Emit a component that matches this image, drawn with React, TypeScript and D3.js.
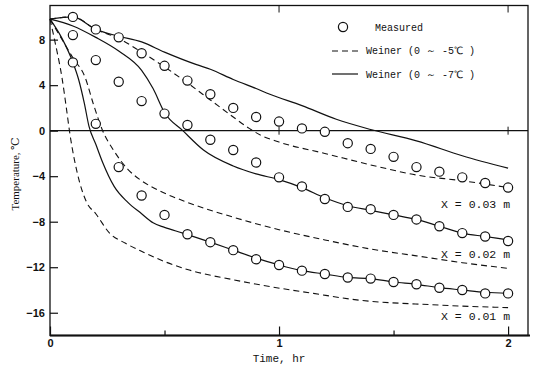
import React, { useRef, useEffect } from "react";
import * as d3 from "d3";

// measured temperatures, one reading every 0.1 hr
const measuredHours = [0.1, 0.2, 0.3, 0.4, 0.5, 0.6, 0.7, 0.8, 0.9, 1.0, 1.1, 1.2, 1.3, 1.4, 1.5, 1.6, 1.7, 1.8, 1.9, 2.0];
const measuredX003 = [10.0, 8.9, 8.2, 6.8, 5.7, 4.4, 3.2, 2.0, 1.2, 0.8, 0.2, -0.1, -1.1, -1.6, -2.3, -3.2, -3.6, -4.1, -4.6, -5.0];
const measuredX002 = [8.4, 6.2, 4.3, 2.6, 1.5, 0.5, -0.8, -1.7, -2.8, -4.1, -4.9, -6.0, -6.7, -6.9, -7.4, -7.8, -8.4, -9.0, -9.3, -9.7];
const measuredX001 = [6.0, 0.6, -3.2, -5.7, -7.4, -9.1, -9.8, -10.5, -11.3, -11.8, -12.3, -12.6, -12.9, -13.0, -13.3, -13.5, -13.8, -14.0, -14.3, -14.3];

// Weiner (0 ~ -7C), solid lines
const w7X003Hours = [0, 0.1, 0.2, 0.3, 0.4, 0.5, 0.64, 0.7, 0.8, 0.9, 0.96, 1.1, 1.25, 1.4, 1.6, 1.8, 2.0];
const w7X003 = [9.8, 10.0, 8.9, 8.3, 7.8, 6.9, 5.8, 5.4, 4.5, 3.7, 3.2, 2.2, 1.0, 0.1, -0.9, -2.2, -3.3];
const w7X002Hours = [0, 0.1, 0.2, 0.3, 0.4, 0.45, 0.5, 0.58, 0.67, 0.8, 0.9, 1.0, 1.1, 1.2, 1.3, 1.4, 1.5, 1.6, 1.7, 1.8, 1.9, 2.0];
const w7X002 = [9.8, 9.2, 8.2, 7.0, 5.3, 3.7, 1.6, 0.0, -1.7, -3.1, -3.8, -4.3, -5.0, -5.9, -6.6, -7.0, -7.4, -7.8, -8.4, -9.0, -9.3, -9.6];
const w7X001Hours = [0, 0.05, 0.1, 0.125, 0.15, 0.17, 0.2, 0.23, 0.28, 0.34, 0.4, 0.45, 0.5, 0.58, 0.7, 0.8, 0.9, 1.0, 1.1, 1.2, 1.3, 1.4, 1.5, 1.6, 1.7, 1.8, 1.9, 2.0];
const w7X001 = [9.8, 8.2, 6.0, 4.5, 2.4, 0.4, -1.2, -2.8, -4.9, -6.3, -7.3, -8.1, -8.5, -9.0, -9.8, -10.5, -11.2, -11.8, -12.3, -12.6, -12.9, -13.0, -13.3, -13.5, -13.8, -14.0, -14.2, -14.3];

// Weiner (0 ~ -5C), dashed lines
const w5X003Hours = [0, 0.1, 0.2, 0.3, 0.4, 0.5, 0.6, 0.7, 0.8, 0.87, 0.92, 1.0, 1.2, 1.44, 1.6, 1.8, 2.0];
const w5X003 = [9.8, 10.0, 8.9, 8.1, 6.9, 5.6, 4.2, 2.7, 1.2, 0.2, -0.4, -1.0, -2.0, -3.2, -3.9, -4.4, -5.0];
const w5X002Hours = [0, 0.05, 0.1, 0.153, 0.19, 0.23, 0.28, 0.34, 0.4, 0.48, 0.6, 0.8, 1.0, 1.2, 1.4, 1.6, 1.8, 2.0];
const w5X002 = [9.8, 8.1, 6.4, 4.7, 2.3, 0.0, -1.8, -3.4, -4.4, -5.3, -6.3, -7.6, -8.7, -9.6, -10.4, -11.0, -11.6, -12.1];
const w5X001Hours = [0, 0.025, 0.052, 0.07, 0.087, 0.12, 0.16, 0.2, 0.26, 0.33, 0.41, 0.5, 0.6, 0.8, 0.96, 1.15, 1.33, 1.67, 2.0];
const w5X001 = [9.8, 7.5, 4.7, 2.2, -0.3, -3.8, -6.3, -7.3, -9.0, -9.9, -10.7, -11.5, -12.2, -13.1, -13.7, -14.3, -14.85, -15.3, -15.55];

const yTicks = [-16, -12, -8, -4, 0, 4, 8];
const xTicks = [0, 1, 2];
const xMinorTicks = [0.5, 1.5];
const depthLabels = ["X = 0.03 m", "X = 0.02 m", "X = 0.01 m"];
const depthLabelTemps = [-6.8, -11.2, -16.6];
const legendLabels = ["Measured", "Weiner (0 \uFF5E -5\u2103 )", "Weiner (0 \uFF5E -7\u2103 )"];

const mono = "'Liberation Mono', 'DejaVu Sans Mono', monospace";

const Chart = () => {
  const svgRef = useRef(null);

  useEffect(() => {
    const svg = d3.select(svgRef.current);
    svg.selectAll("*").remove();

    const left = 50, right = 528, top = 5.5, bottom = 335.5;
    const x = d3.scaleLinear().domain([0, 2.087]).range([left, right]);
    const y = d3.scaleLinear().domain([-18, 11]).range([bottom, top]);

    const line = d3
      .line()
      .x((d) => x(d[0]))
      .y((d) => y(d[1]))
      .curve(d3.curveMonotoneX);

    const zip = (ts, vs) => ts.map((t, i) => [t, vs[i]]);

    // frame
    svg.append("rect")
      .attr("x", left).attr("y", top)
      .attr("width", right - left).attr("height", bottom - top)
      .attr("fill", "none").attr("stroke", "#111").attr("stroke-width", 1.3);
    svg.append("line")
      .attr("x1", left).attr("x2", right + 2)
      .attr("y1", bottom).attr("y2", bottom)
      .attr("stroke", "#111").attr("stroke-width", 1.8);

    // zero line
    svg.append("line")
      .attr("x1", left).attr("x2", right)
      .attr("y1", y(0)).attr("y2", y(0))
      .attr("stroke", "#111").attr("stroke-width", 1.1);
    [1, 2].forEach((t) => {
      svg.append("line")
        .attr("x1", x(t)).attr("x2", x(t))
        .attr("y1", y(0) - 4).attr("y2", y(0) + 4)
        .attr("stroke", "#111").attr("stroke-width", 1);
      svg.append("line")
        .attr("x1", x(t)).attr("x2", x(t))
        .attr("y1", top).attr("y2", top + 7)
        .attr("stroke", "#111").attr("stroke-width", 1);
    });

    // y axis
    const yAxis = svg.append("g")
      .attr("transform", `translate(${left},0)`)
      .call(d3.axisLeft(y).tickValues(yTicks).tickSizeInner(-8).tickSizeOuter(0).tickPadding(5).tickFormat(d3.format("d")));
    yAxis.select(".domain").remove();
    yAxis.selectAll("line").attr("stroke", "#111").attr("stroke-width", 1.2);
    yAxis.selectAll("text")
      .attr("font-family", "'Liberation Sans', Arial, sans-serif")
      .attr("font-weight", "bold").attr("font-size", 11).attr("fill", "#111");

    // x axis
    const xAxis = svg.append("g")
      .attr("transform", `translate(0,${bottom})`)
      .call(d3.axisBottom(x).tickValues(xTicks).tickSizeInner(-9).tickSizeOuter(0).tickPadding(4).tickFormat(d3.format("d")));
    xAxis.select(".domain").remove();
    xAxis.selectAll("line").attr("stroke", "#111").attr("stroke-width", 1.2);
    xAxis.selectAll("text")
      .attr("font-family", "'Liberation Sans', Arial, sans-serif")
      .attr("font-weight", "bold").attr("font-size", 11).attr("fill", "#111");
    const xMinor = svg.append("g")
      .attr("transform", `translate(0,${bottom})`)
      .call(d3.axisBottom(x).tickValues(xMinorTicks).tickSizeInner(-5).tickSizeOuter(0).tickFormat(() => ""));
    xMinor.select(".domain").remove();
    xMinor.selectAll("line").attr("stroke", "#111").attr("stroke-width", 1.2);

    // axis titles
    svg.append("text")
      .attr("x", x(1)).attr("y", 362)
      .attr("text-anchor", "middle")
      .attr("font-family", mono).attr("font-size", 11).attr("fill", "#111")
      .text("Time, hr");
    svg.append("text")
      .attr("transform", `translate(19,${(y(-4) + y(-8)) / 2 - 25}) rotate(-90)`)
      .attr("text-anchor", "middle")
      .attr("font-family", "'Liberation Serif', 'DejaVu Serif', serif").attr("font-size", 11).attr("fill", "#111")
      .text("Temperature, \u2103");

    // Weiner curves
    const dashed = [zip(w5X003Hours, w5X003), zip(w5X002Hours, w5X002), zip(w5X001Hours, w5X001)];
    const solid = [zip(w7X003Hours, w7X003), zip(w7X002Hours, w7X002), zip(w7X001Hours, w7X001)];
    dashed.forEach((d) => {
      svg.append("path").datum(d)
        .attr("fill", "none").attr("stroke", "#111").attr("stroke-width", 1.1)
        .attr("stroke-dasharray", "6,4").attr("d", line);
    });
    solid.forEach((d) => {
      svg.append("path").datum(d)
        .attr("fill", "none").attr("stroke", "#111").attr("stroke-width", 1.2)
        .attr("d", line);
    });

    // measured points
    [measuredX003, measuredX002, measuredX001].forEach((vals) => {
      svg.append("g").selectAll("circle")
        .data(vals)
        .join("circle")
        .attr("cx", (d, i) => x(measuredHours[i]))
        .attr("cy", (d) => y(d))
        .attr("r", 4.6)
        .attr("fill", "white").attr("stroke", "#111").attr("stroke-width", 1.2);
    });

    // depth labels
    svg.append("g").selectAll("text")
      .data(depthLabels)
      .join("text")
      .attr("x", x(2) + 2)
      .attr("y", (d, i) => y(depthLabelTemps[i]))
      .attr("text-anchor", "end")
      .attr("font-family", mono).attr("font-size", 11.5).attr("fill", "#111")
      .text((d) => d);

    // legend
    const lg = svg.append("g").attr("transform", "translate(332,27)");
    lg.append("circle").attr("cx", 11).attr("cy", 0).attr("r", 4.6)
      .attr("fill", "white").attr("stroke", "#111").attr("stroke-width", 1.2);
    lg.append("line").attr("x1", 0).attr("x2", 26).attr("y1", 24).attr("y2", 24)
      .attr("stroke", "#111").attr("stroke-width", 1.1).attr("stroke-dasharray", "6,4");
    lg.append("line").attr("x1", 0).attr("x2", 26).attr("y1", 47).attr("y2", 47)
      .attr("stroke", "#111").attr("stroke-width", 1.2);
    lg.selectAll("text")
      .data(legendLabels)
      .join("text")
      .attr("x", (d, i) => (i === 0 ? 43 : 34))
      .attr("y", (d, i) => i * 23.5 + 3.5)
      .attr("font-family", mono).attr("font-size", 10).attr("fill", "#111")
      .text((d) => d);
  }, []);

  return (
    <svg
      ref={svgRef}
      width={535}
      height={367}
      style={{ position: "absolute", left: 0, top: 0, background: "white" }}
    ></svg>
  );
};

export default function App() {
  return <Chart />;
}
